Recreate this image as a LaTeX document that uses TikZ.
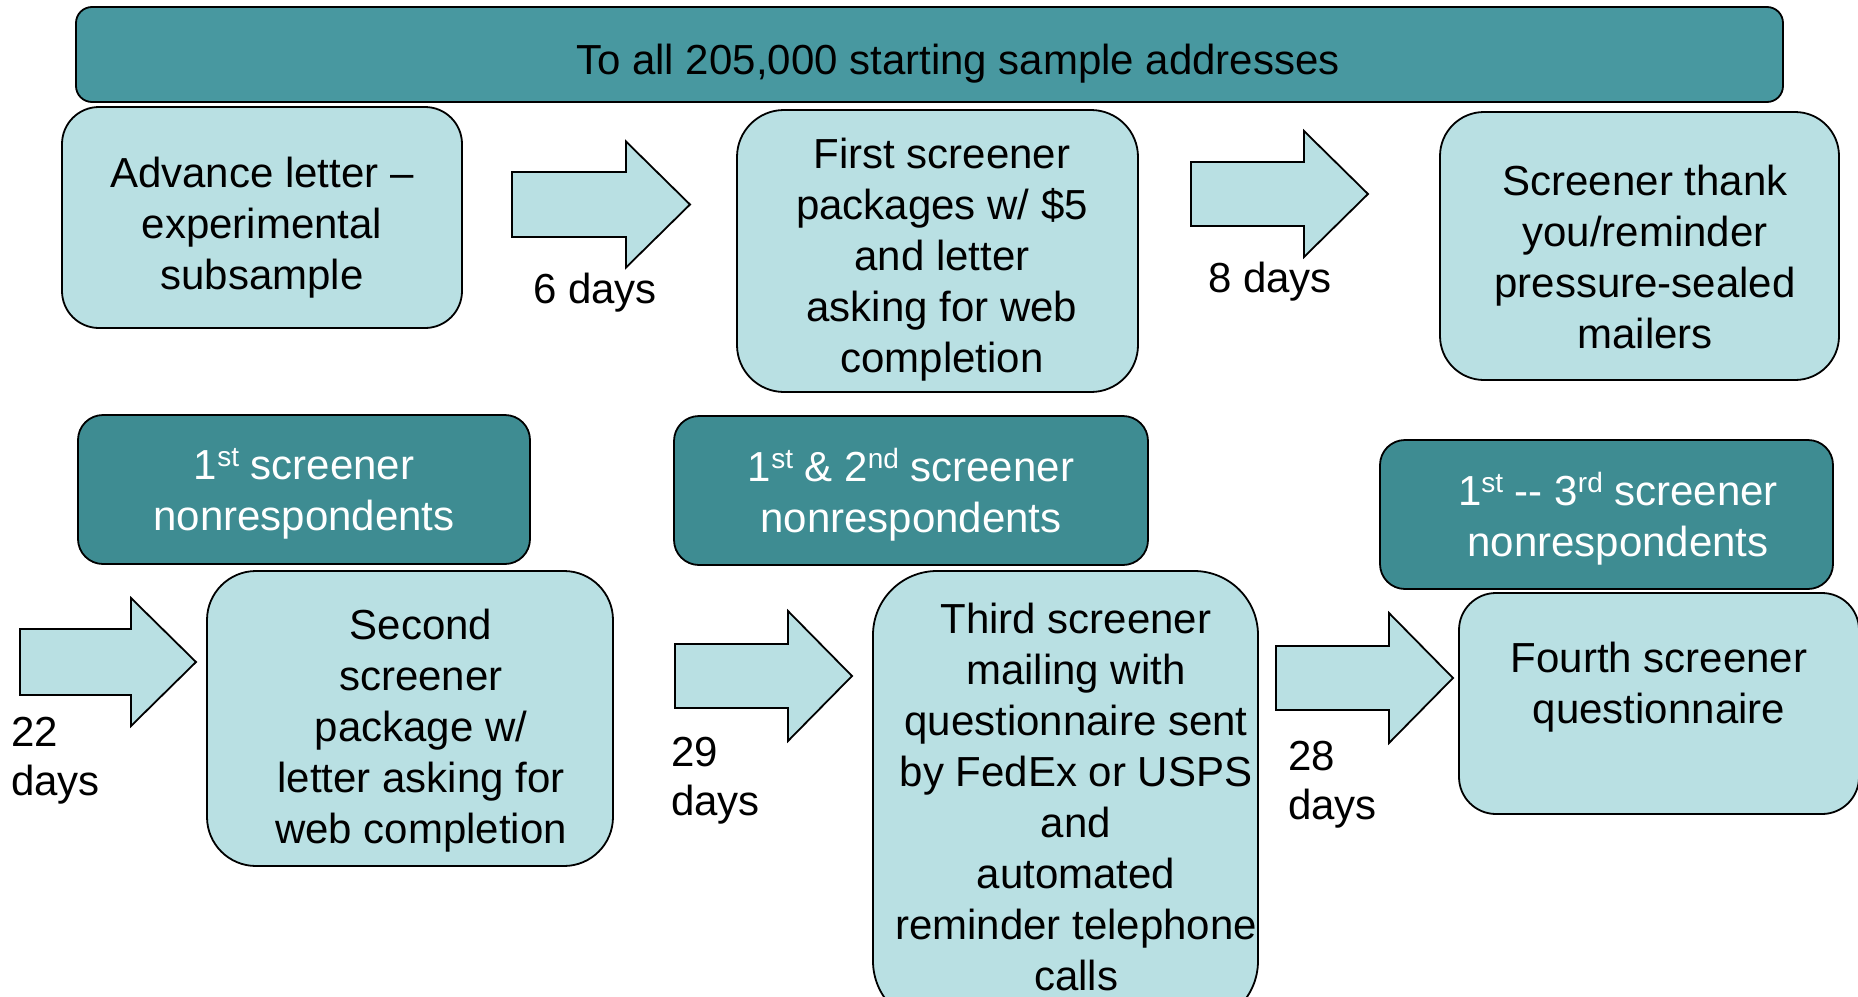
\documentclass[tikz,border=0pt]{standalone}
\usepackage{fontspec}
\setmainfont{Liberation Sans}

\definecolor{bannerteal}{HTML}{4898A0}
\definecolor{darkteal}{HTML}{3E8C92}
\definecolor{paleteal}{HTML}{B9E0E3}

% raised ordinal suffix (st, nd, rd)
\newcommand\sups[1]{\raisebox{12.5pt}{\fontsize{28}{28}\selectfont #1}}

% block arrow: name, tail x, neck x, tip x, mid y, shaft half-height, head half-height
\newcommand\flowarrow[7]{%
  \coordinate (#1-tail) at (#2,#5);
  \coordinate (#1-tip) at (#4,#5);
  \draw[blockarrow] (#2,#5-#6) -- (#3,#5-#6) -- (#3,#5-#7) -- (#1-tip)
    -- (#3,#5+#7) -- (#3,#5+#6) -- (#2,#5+#6) -- cycle;
}

\tikzset{
  panel/.style={draw=black, line width=1.8pt, inner sep=0pt, outer sep=0pt},
  pale/.style={panel, fill=paleteal},
  dark/.style={panel, fill=darkteal},
  banner/.style={panel, fill=bannerteal},
  words/.style={inner sep=0pt, align=center, font=\fontsize{42}{51}\selectfont},
  lightwords/.style={words, text=white},
  daylabel/.style={inner sep=0pt, align=left, anchor=west, font=\fontsize{42}{49}\selectfont},
  blockarrow/.style={draw=black, line width=1.8pt, fill=paleteal, line join=miter},
}

\begin{document}
\begin{tikzpicture}[x=1pt, y=-1pt]
\useasboundingbox (0,0) rectangle (1858,996);
\clip (0,0) rectangle (1858,996);

% header band
\node[banner, rounded corners=16, minimum width=1707, minimum height=95] (all) at (929.5,54.5) {};
\node[words] (all-t) at (958,63.8) {\strut To all 205,000 starting sample addresses};

% first row of mailings
\node[pale, rounded corners=37, minimum width=400, minimum height=221] (adv) at (262,217.5) {};
\node[words] (adv-t) at (262,228) {\strut Advance letter –\\experimental\\subsample\strut};

\node[pale, rounded corners=47, minimum width=401, minimum height=282] (first) at (937.5,251) {};
\node[words] (first-t) at (942,260) {\strut First screener\\packages w/ \$5\\and letter\\asking for web\\completion\strut};

\node[pale, rounded corners=44, minimum width=399, minimum height=268] (thank) at (1639.5,246) {};
\node[words] (thank-t) at (1645,262) {\strut Screener thank\\you/reminder\\pressure-sealed\\mailers\strut};

\flowarrow{a1}{512}{626}{690}{204.5}{32.5}{63}
\node[words] (a1-l) at (595,293.3) {\strut 6 days};
\flowarrow{a2}{1191}{1304}{1368}{194}{32}{63}
\node[words] (a2-l) at (1270,281.8) {\strut 8 days};

% nonrespondent groups
\node[dark, rounded corners=25, minimum width=452, minimum height=149] (nr1) at (304,489.5) {};
\node[lightwords] (nr1-t) at (304,494.3) {\strut 1\sups{st} screener\\nonrespondents\strut};

\node[dark, rounded corners=25, minimum width=474, minimum height=149] (nr2) at (911,490.5) {};
\node[lightwords] (nr2-t) at (911,496.3) {\strut 1\sups{st} \& 2\sups{nd} screener\\nonrespondents\strut};

\node[dark, rounded corners=25, minimum width=453, minimum height=149] (nr3) at (1606.5,514.5) {};
\node[lightwords] (nr3-t) at (1618,520.3) {\strut 1\sups{st} -{}- 3\sups{rd} screener\\nonrespondents\strut};

% second row of mailings
\node[pale, rounded corners=49, minimum width=406, minimum height=295] (second) at (410,718.5) {};
\node[words] (second-t) at (421,730.8) {\strut Second\\screener\\package w/\\letter asking for\\web completion\strut};

\node[pale, rounded corners=64, minimum width=385, minimum height=454] (third) at (1065.5,798) {};
\node[words] (third-t) at (1076,801.3) {\strut Third screener\\mailing with\\questionnaire sent\\by FedEx or USPS\\and\\automated\\reminder telephone\\calls\strut};

\node[pale, rounded corners=37, minimum width=400, minimum height=221] (fourth) at (1659,703.5) {};
\node[words] (fourth-t) at (1659,687.3) {\strut Fourth screener\\questionnaire\strut};

\flowarrow{a3}{20}{131}{196}{662}{33}{64}
\node[daylabel] (a3-l) at (11,760.7) {\strut 22\\days\strut};
\flowarrow{a4}{675}{788}{852}{676}{32}{65}
\node[daylabel] (a4-l) at (671,780.7) {\strut 29\\days\strut};
\flowarrow{a5}{1276}{1389}{1453}{678}{32}{65}
\node[daylabel] (a5-l) at (1288,784.7) {\strut 28\\days\strut};
\end{tikzpicture}
\end{document}
